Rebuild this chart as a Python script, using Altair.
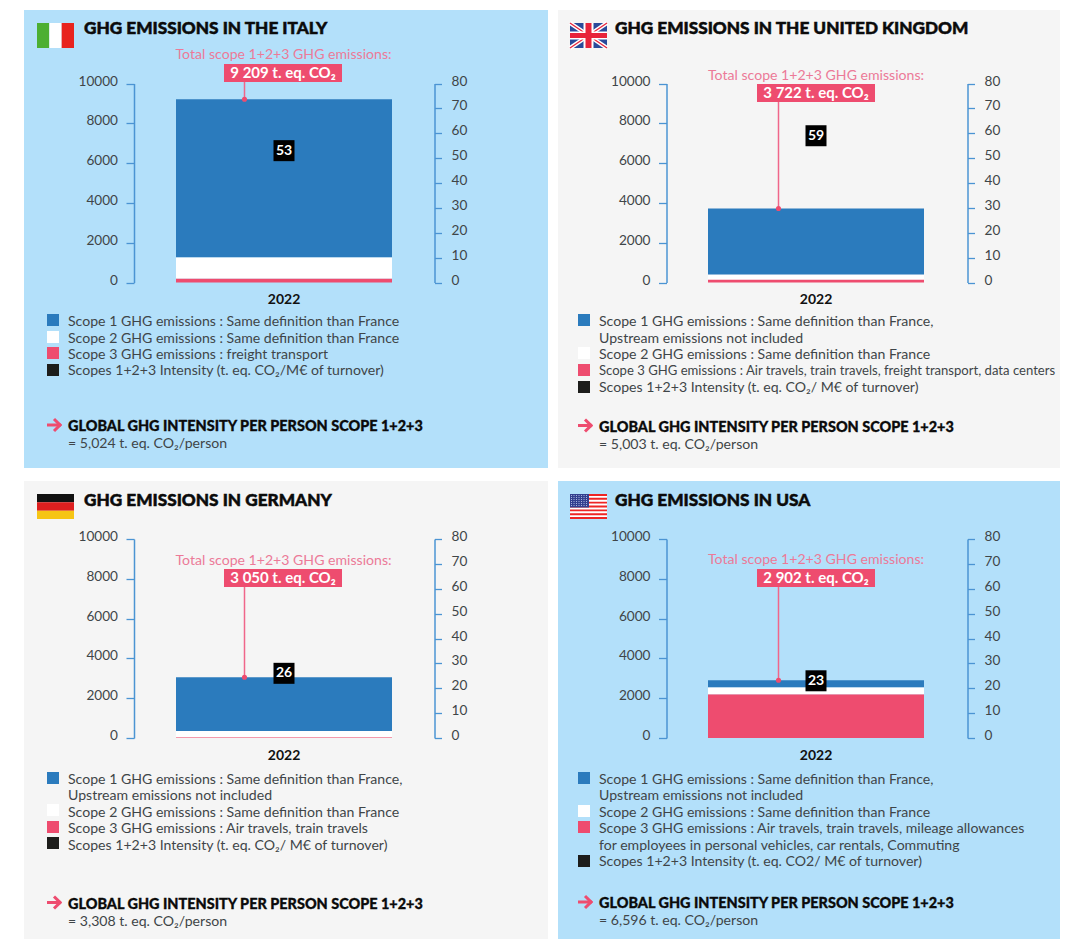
import altair as alt
import pandas as pd

# ---------- data ----------
YEAR = "2022"
COUNTRIES = ["Italy", "United Kingdom", "Germany", "USA"]
TITLES = ["GHG EMISSIONS IN THE ITALY", "GHG EMISSIONS IN THE UNITED KINGDOM",
          "GHG EMISSIONS IN GERMANY", "GHG EMISSIONS IN USA"]
SCOPE_NAMES = ["Scope 3", "Scope 2", "Scope 1"]
SCOPE3 = [200, 150, 40, 2200]
SCOPE2 = [1070, 250, 310, 355]
SCOPE1 = [7939, 3322, 2700, 347]
TOTALS = [9209, 3722, 3050, 2902]
TOTAL_LABELS = ["9 209 t. eq. CO₂", "3 722 t. eq. CO₂", "3 050 t. eq. CO₂", "2 902 t. eq. CO₂"]
INTENSITY = [53, 59, 26, 23]
PER_PERSON = ["= 5,024 t. eq. CO₂/person", "= 5,003 t. eq. CO₂/person",
              "= 3,308 t. eq. CO₂/person", "= 6,596 t. eq. CO₂/person"]
LEFT_TICKS = [0, 2000, 4000, 6000, 8000, 10000]
RIGHT_TICKS = [0, 10, 20, 30, 40, 50, 60, 70, 80]
LEGENDS = [
    ["Scope 1 GHG emissions : Same definition than France",
     "Scope 2 GHG emissions : Same definition than France",
     "Scope 3 GHG emissions : freight transport",
     "Scopes 1+2+3 Intensity (t. eq. CO₂/M€ of turnover)"],
    ["Scope 1 GHG emissions : Same definition than France,",
     "Upstream emissions not included",
     "Scope 2 GHG emissions : Same definition than France",
     "Scope 3 GHG emissions : Air travels, train travels, freight transport, data centers",
     "Scopes 1+2+3 Intensity (t. eq. CO₂/ M€ of turnover)"],
    ["Scope 1 GHG emissions : Same definition than France,",
     "Upstream emissions not included",
     "Scope 2 GHG emissions : Same definition than France",
     "Scope 3 GHG emissions : Air travels, train travels",
     "Scopes 1+2+3 Intensity (t. eq. CO₂/ M€ of turnover)"],
    ["Scope 1 GHG emissions : Same definition than France,",
     "Upstream emissions not included",
     "Scope 2 GHG emissions : Same definition than France",
     "Scope 3 GHG emissions : Air travels, train travels, mileage allowances",
     "for employees in personal vehicles, car rentals, Commuting",
     "Scopes 1+2+3 Intensity (t. eq. CO2/ M€ of turnover)"],
]
GLOBAL_HEAD = "GLOBAL GHG INTENSITY PER PERSON SCOPE 1+2+3"
TOTAL_HEAD = "Total scope 1+2+3 GHG emissions:"

# ---------- styles / layout ----------
BLUE, WHITE, PINK, BLACK = "#2b7bbd", "#ffffff", "#ee4c6f", "#1d1d1b"
SKY, GREY = "#b3e0fa", "#f5f5f5"
AXIS = "#4b94d3"
TXT = "#3f4548"
BODY = "Lato, DejaVu Sans"
HEAD = "Lato"
BG = [SKY, GREY, GREY, SKY]
PANEL_W = [524, 502, 524, 502]   # the page body is 1052 wide: wider charts get shrunk
PANEL_H = 458
COL = [
    dict(axl=110, axr=410.5, bar=(152, 368), box=(200, 318), rule=220.5, sq=29, txt=44, title=60, flag=13, cx=259.5),
    dict(axl=108.5, axr=409.5, bar=(150, 366), box=(199, 317), rule=220.5, sq=26, txt=41, title=57, flag=12, cx=258),
]
ROW = [
    dict(y0=272.5, y1=73.5, title=18.7, flag=(13, 38)),
    dict(y0=257, y1=58, title=20, flag=(13, 38)),
]
TOTAL_Y = [45, 65.5, 79.5, 78.5]
BOX_Y = [(54, 72), (74, 92), (88, 106), (88, 106)]
LEG_TXT_Y = [[311.5, 328.5, 344.5, 361], [311.5, 328.5, 344.5, 361, 378], [299, 315, 332, 348, 365],
             [299, 315, 332, 348, 365, 381]]
LEG_SQ = [[(310, BLUE), (327, WHITE), (343, PINK), (360, BLACK)],
          [(310, BLUE), (343, WHITE), (360, PINK), (377, BLACK)],
          [(297, BLUE), (329, WHITE), (346, PINK), (362, BLACK)],
          [(297, BLUE), (330, WHITE), (346, PINK), (380, BLACK)]]
GLOBAL_Y = [(417, 433.5), (417.5, 434.5), (423.5, 440.5), (423, 440)]
LONG_LINE = "freight transport, data centers"


def dummy():
    return alt.Chart(alt.Data(values=[{"k": 1}]))


def text(s, x, y, size=14.1, color=TXT, weight="normal", align="left", font=BODY, thick=0):
    kw = dict(stroke=color, strokeWidth=thick) if thick else {}
    return dummy().mark_text(fontSize=size, color=color, fontWeight=weight, align=align,
                             baseline="middle", font=font, **kw).encode(
        x=alt.value(x), y=alt.value(y), text=alt.value(s))


def rect(x, x2, y, y2, color):
    return dummy().mark_rect(color=color).encode(
        x=alt.value(x), x2=alt.value(x2), y=alt.value(y), y2=alt.value(y2))


def line(x, y, x2, y2, color, w, **kw):
    return dummy().mark_rule(color=color, strokeWidth=w, **kw).encode(
        x=alt.value(x), x2=alt.value(x2), y=alt.value(y), y2=alt.value(y2))


def flag(i, x, top, bottom):
    w, h = 37, bottom - top
    out = []
    if i == 0:
        out += [rect(x, x + w / 3, top, bottom, "#4caf32"), rect(x + w / 3, x + 2 * w / 3, top, bottom, "#ffffff"),
                rect(x + 2 * w / 3, x + w, top, bottom, "#e8231e")]
    elif i == 2:
        out += [rect(x, x + w, top, top + h / 3, "#111111"), rect(x, x + w, top + h / 3, top + 2 * h / 3, "#dd1f1f"),
                rect(x, x + w, top + 2 * h / 3, bottom, "#f6c515")]
    elif i == 1:
        my, mx = (top + bottom) / 2, x + w / 2
        out += [rect(x, x + w, top, bottom, "#2a4a9a"),
                line(x, top, x + w, bottom, "#ffffff", 4), line(x, bottom, x + w, top, "#ffffff", 4),
                line(x, top, x + w, bottom, "#e8233a", 1.3), line(x, bottom, x + w, top, "#e8233a", 1.3),
                rect(x, x + w, my - 4, my + 4, "#ffffff"), rect(mx - 5, mx + 5, top, bottom, "#ffffff"),
                rect(x, x + w, my - 2.5, my + 2.5, "#e8233a"), rect(mx - 3, mx + 3, top, bottom, "#e8233a")]
    else:
        s = h / 13
        out.append(rect(x, x + w, top, bottom, "#ffffff"))
        for k in range(0, 13, 2):
            out.append(rect(x, x + w, top + k * s, top + (k + 1) * s, "#ee2524"))
        out.append(rect(x, x + 19, top, top + 7 * s, "#34408f"))
        for r in range(6):
            ry = top + 1.5 + r * 2
            out.append(line(x + 1, ry, x + 18, ry, "#aab4dc", 1, strokeDash=[1, 1.5]))
    return out


def arrow(x, y):
    return [line(x, y, x + 13, y, PINK, 3),
            line(x + 7, y - 6, x + 14, y + 0.8, PINK, 3),
            line(x + 7, y + 6, x + 14, y - 0.8, PINK, 3)]


def panel(i):
    col, row = COL[i % 2], ROW[i // 2]
    x_scale = alt.Scale(type="band", domain=[YEAR], range=list(col["bar"]), paddingInner=0, paddingOuter=0)
    left = alt.Scale(domain=[0, 10000], range=[row["y0"], row["y1"]], nice=False)
    right = alt.Scale(domain=[0, 80], range=[row["y0"], row["y1"]], nice=False)

    vals = [SCOPE3[i], SCOPE2[i], SCOPE1[i]]
    starts = [0, vals[0], vals[0] + vals[1]]
    ends = [vals[0], vals[0] + vals[1], sum(vals)]
    bars_df = pd.DataFrame({"year": YEAR, "scope": SCOPE_NAMES, "v0": starts, "v1": ends})

    bars = alt.Chart(bars_df).mark_bar().encode(
        x=alt.X("year:N", scale=x_scale, title=None,
                axis=alt.Axis(orient="bottom", offset=-(PANEL_H - row["y0"]), domain=False, ticks=False,
                              labelAngle=0, labelPadding=10, labelFont=HEAD, labelFontSize=14,
                              labelFontWeight="bold", labelColor="#111111", labelBaseline="top")),
        y=alt.Y("v0:Q", scale=left, title=None,
                axis=alt.Axis(orient="left", offset=-col["axl"], values=LEFT_TICKS, grid=False,
                              domainColor=AXIS, domainWidth=1.5, tickColor=AXIS, tickWidth=1.3, tickSize=8,
                              labelColor=TXT, labelFont=BODY, labelFontSize=13.6, labelPadding=8.5,
                              labelOffset=-2.5, format="d")),
        y2="v1:Q",
        color=alt.Color("scope:N", legend=None,
                        scale=alt.Scale(domain=SCOPE_NAMES[::-1], range=[BLUE, WHITE, PINK])),
    )

    tot_df = pd.DataFrame({"total": [TOTALS[i]]})
    stem = alt.Chart(tot_df).mark_rule(color="#f0668a", strokeWidth=1.5).encode(
        x=alt.value(col["rule"]), y=alt.Y("total:Q", scale=left, axis=None), y2=alt.value(BOX_Y[i][1]))
    dot = alt.Chart(tot_df).mark_circle(color=PINK, size=26, opacity=1).encode(
        x=alt.value(col["rule"]), y=alt.Y("total:Q", scale=left, axis=None))

    int_df = pd.DataFrame({"year": [YEAR], "intensity": [INTENSITY[i]]})
    int_axis = alt.Axis(orient="right", offset=-(PANEL_W[i] - col["axr"]), values=RIGHT_TICKS, grid=False,
                        domainColor=AXIS, domainWidth=1.5, tickColor=AXIS, tickWidth=1.3, tickSize=7,
                        labelColor=TXT, labelFont=BODY, labelFontSize=13.6, labelPadding=9.5, labelOffset=-2.5)
    badge = alt.Chart(int_df).mark_square(color="#000000", size=441, opacity=1).encode(
        x=alt.X("year:N", scale=x_scale, axis=None),
        y=alt.Y("intensity:Q", scale=right, title=None, axis=int_axis))
    badge_txt = alt.Chart(int_df).mark_text(color="#ffffff", fontSize=14, fontWeight="bold", font=HEAD,
                                            baseline="middle").encode(
        x=alt.X("year:N", scale=x_scale, axis=None),
        y=alt.Y("intensity:Q", scale=right, axis=None),
        text=alt.Text("intensity:Q"))

    layers = [bars, stem, dot, badge, badge_txt]
    layers.append(text(TOTAL_HEAD, col["cx"], TOTAL_Y[i], size=14.1, color="#ec7a98", align="center"))
    layers.append(rect(col["box"][0], col["box"][1], BOX_Y[i][0], BOX_Y[i][1], PINK))
    layers.append(text(TOTAL_LABELS[i], (col["box"][0] + col["box"][1]) / 2, sum(BOX_Y[i]) / 2,
                       size=15, color="#ffffff", weight="bold", align="center"))
    layers += flag(i, col["flag"], *row["flag"])
    layers.append(text(TITLES[i], col["title"], row["title"], size=17.2, color="#0b0b0b", weight=900,
                       font=HEAD, thick=0.5))

    for (sy, c) in LEG_SQ[i]:
        layers.append(dummy().mark_square(color=c, size=144, opacity=1).encode(
            x=alt.value(col["sq"]), y=alt.value(sy)))
    for s, ty in zip(LEGENDS[i], LEG_TXT_Y[i]):
        layers.append(text(s, col["txt"], ty, size=13.1 if LONG_LINE in s else 14.1))

    gy1, gy2 = GLOBAL_Y[i]
    layers += arrow(col["sq"] - 6, gy1 - 2)
    layers.append(text(GLOBAL_HEAD, col["txt"], gy1, size=14.45, color="#0b0b0b", weight=900, font=HEAD, thick=0.3))
    layers.append(text(PER_PERSON[i], col["txt"], gy2))

    return alt.layer(*layers).resolve_scale(y="independent", x="shared", color="independent").resolve_axis(
        y="independent", x="independent").properties(width=PANEL_W[i], height=PANEL_H,
                                                     view=alt.ViewBackground(fill=BG[i], strokeWidth=0))


chart = alt.vconcat(
    alt.hconcat(panel(0), panel(1), spacing=10),
    alt.hconcat(panel(2), panel(3), spacing=10),
    spacing=13,
).properties(padding={"left": 16, "top": 2, "right": 0, "bottom": 0}, background="#ffffff").configure_view(strokeWidth=0)

chart.save("out.html", embed_options={"renderer": "svg", "actions": False})
